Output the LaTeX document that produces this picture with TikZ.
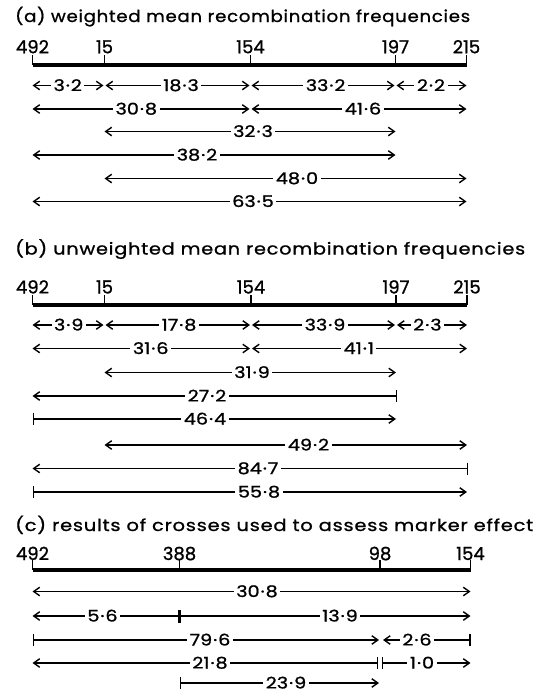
\documentclass[tikz,border=0pt]{standalone}
\usepackage{fontspec}
\setmainfont{Poppins}[FakeBold=1]
\newfontfamily\titlefont{Poppins}[LetterSpace=4,FakeBold=0.9]
\usetikzlibrary{arrows.meta}
\tikzset{
  ah/.tip={Straight Barb[length=6pt,width=8.5pt,line width=1.4pt]},
  br/.tip={Bar[width=12pt,line width=1.2pt]},
  axisline/.style={line width=3.5pt},
  tickline/.style={line width=1.5pt},
  dimline/.style={line width=1.1pt},
  lab/.style={fill=white, inner xsep=2.5pt, inner ysep=0pt,
    font=\fontsize{16}{16}\selectfont, text height=11pt, text depth=0pt},
  ticklab/.style={anchor=base, inner sep=0pt, font=\fontsize{18}{18}\selectfont},
  titlelab/.style={anchor=base west, inner sep=0pt, font=\fontsize{16.5}{16.5}\titlefont},
  thickbar/.style={line width=2.6pt},
}
\newcommand\fitw[2]{\resizebox{#1}{\height}{#2}}
\newcommand\dt{\kern0.8pt·\kern0.8pt}
\newcommand\dimrow[7]{%
  \coordinate (#7L) at (#2,#4);
  \coordinate (#7R) at (#3,#4);
  \draw[dimline,#1] (#7L) -- (#7R);
  \node[lab] (#7) at (#5,#4) {\scalebox{1.2}[1]{#6}};
}
\newcommand\tickmark[5]{% name, x, yaxis, ylabel, text
  \coordinate (#1) at (#2,#3);
  \coordinate (#1top) at (#2,#3-10);
  \draw[tickline] (#1) -- (#1top);
  \node[ticklab] (#1lab) at (#2,#4) {#5};
}
\begin{document}
\begin{tikzpicture}[x=1pt,y=-1pt]
\useasboundingbox[fill=white] (0,0) rectangle (537,694);

% ---------- (a)
\node[titlelab] (ta) at (15,22) {\fitw{455pt}{(a) weighted mean recombination frequencies}};
\coordinate (aL) at (32.5,65); \coordinate (aR) at (466.5,65);
\draw[axisline] (aL) -- (aR);
\tickmark{aA}{32.5}{65}{53.3}{492}
\tickmark{aB}{104.5}{65}{53.3}{15}
\tickmark{aC}{250.5}{65}{53.3}{154}
\tickmark{aD}{395.5}{65}{53.3}{197}
\tickmark{aE}{466.5}{65}{53.3}{215}

\dimrow{ah-ah}{32.5}{103.5}{85.5}{67.7}{3\dt2}{a11}
\dimrow{ah-ah}{105.5}{249.5}{85.5}{181}{18\dt3}{a12}
\dimrow{ah-ah}{251.5}{394.5}{85.5}{325.6}{33\dt2}{a13}
\dimrow{ah-ah}{396.5}{466.5}{85.5}{431}{2\dt2}{a14}
\dimrow{ah-ah}{32.5}{249.5}{109}{136.3}{30\dt8}{a21}
\dimrow{ah-ah}{251.5}{466.5}{109}{363}{41\dt6}{a22}
\dimrow{ah-ah}{104.5}{395.5}{131.5}{253}{32\dt3}{a3}
\dimrow{ah-ah}{32.5}{395.5}{155}{197}{38\dt2}{a4}
\dimrow{ah-ah}{104.5}{466.5}{178.5}{297}{48\dt0}{a5}
\dimrow{ah-ah}{32.5}{466.5}{201.5}{253}{63\dt5}{a6}

% ---------- (b)
\node[titlelab] (tb) at (15,254.5) {\fitw{510pt}{(b) unweighted mean recombination frequencies}};
\coordinate (bL) at (32.5,305); \coordinate (bR) at (467,305);
\draw[axisline] (bL) -- (bR);
\tickmark{bA}{32.5}{305}{293.5}{492}
\tickmark{bB}{104.5}{305}{293.5}{15}
\tickmark{bC}{251}{305}{293.5}{154}
\tickmark{bD}{396}{305}{293.5}{197}
\tickmark{bE}{467}{305}{293.5}{215}

\dimrow{ah-ah}{32.5}{103.5}{325}{68.7}{3\dt9}{b11}
\dimrow{ah-ah}{105.5}{250}{325}{179}{17\dt8}{b12}
\dimrow{ah-ah}{252}{395}{325}{325}{33\dt9}{b13}
\dimrow{ah-ah}{397}{467}{325}{427.4}{2\dt3}{b14}
\dimrow{ah-ah}{32.5}{250}{348.5}{150.7}{31\dt6}{b21}
\dimrow{ah-ah}{252}{467}{348.5}{358.8}{41\dt1}{b22}
\dimrow{ah-ah}{104.5}{396}{372.5}{252}{31\dt9}{b3}
\dimrow{ah-br}{32.5}{397}{396}{207}{27\dt2}{b4}
\dimrow{br-ah}{32.5}{396}{419}{205}{46\dt4}{b5}
\dimrow{ah-ah}{104.5}{467}{445}{308.5}{49\dt2}{b6}
\dimrow{ah-br}{32.5}{468}{468.5}{258}{84\dt7}{b7}
\dimrow{br-ah}{32.5}{467}{492}{259}{55\dt8}{b8}

% ---------- (c)
\node[titlelab] (tc) at (15,531) {\fitw{518pt}{(c) results of crosses used to assess marker effect}};
\coordinate (cL) at (32.5,570); \coordinate (cR) at (470.5,570);
\draw[axisline] (cL) -- (cR);
\tickmark{cA}{32.5}{570}{560}{492}
\tickmark{cB}{179.5}{570}{560}{388}
\tickmark{cC}{380}{570}{560}{98}
\tickmark{cD}{470.5}{570}{560}{154}

\dimrow{ah-ah}{32.5}{470.5}{591.5}{257}{30\dt8}{c1}
\dimrow{ah-}{32.5}{179.5}{616}{102.5}{5\dt6}{c21}
\dimrow{-ah}{179.5}{470.5}{616}{340}{13\dt9}{c22}
\coordinate (c2bT) at (179.5,610); \coordinate (c2bB) at (179.5,622.5);
\draw[thickbar] (c2bT) -- (c2bB);
\dimrow{br-ah}{32.5}{379}{640}{210}{79\dt6}{c31}
\dimrow{ah-br}{383}{470.5}{640}{417}{2\dt6}{c32}
\dimrow{ah-br}{32.5}{378}{663}{210}{21\dt8}{c41}
\dimrow{br-ah}{381.5}{470.5}{663}{422}{1\dt0}{c42}
\dimrow{br-ah}{179.5}{379}{683}{286}{23\dt9}{c5}
\end{tikzpicture}
\end{document}
